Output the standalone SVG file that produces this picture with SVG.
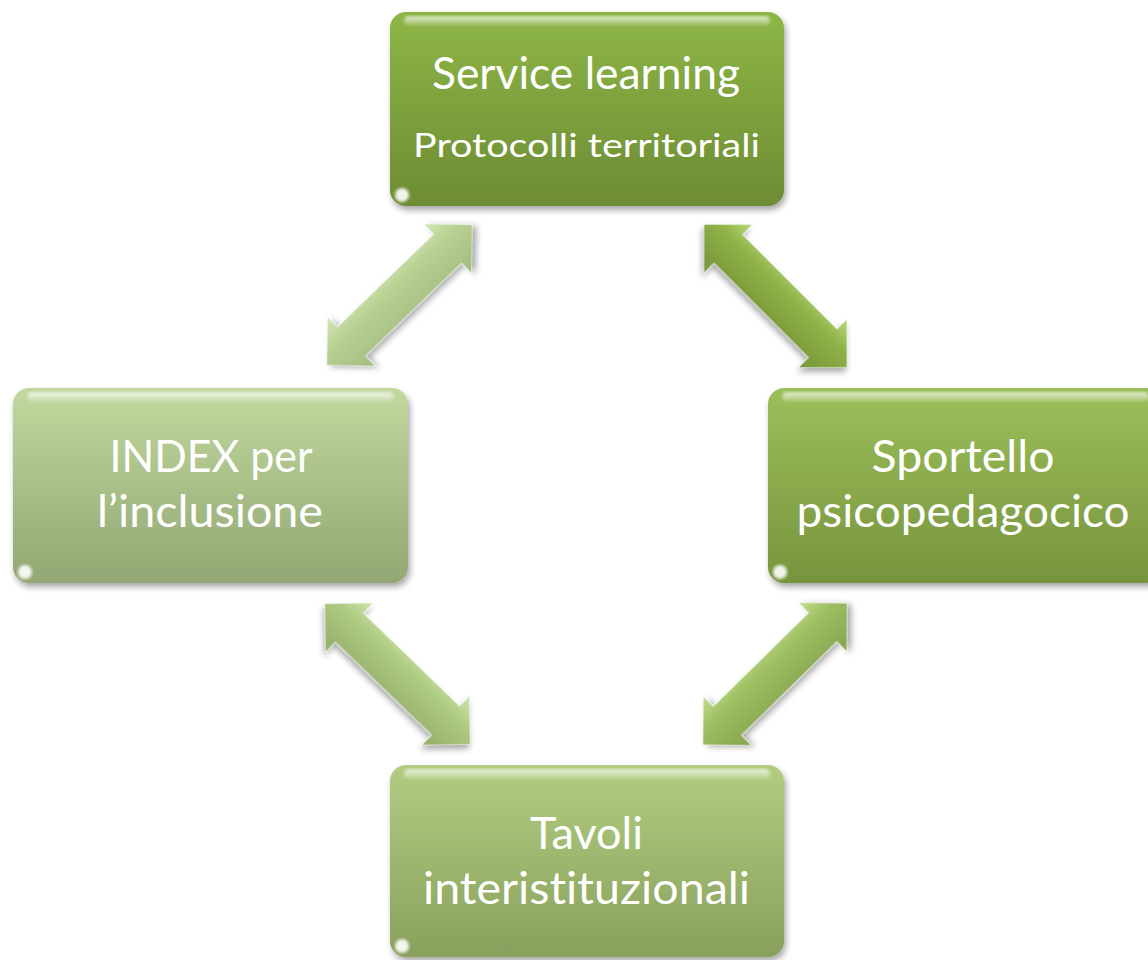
<svg xmlns="http://www.w3.org/2000/svg" width="1148" height="960" viewBox="0 0 1148 960">
<defs>
<filter id="sh" x="-10%" y="-10%" width="125%" height="130%">
<feDropShadow dx="2" dy="4" stdDeviation="3" flood-color="#000" flood-opacity="0.35"/>
</filter>
<filter id="blur1"><feGaussianBlur stdDeviation="1.5"/></filter>
<linearGradient id="gTop" x1="0" y1="0" x2="0" y2="1"><stop offset="0" stop-color="#8EB646"/><stop offset="1" stop-color="#6D8C34"/></linearGradient>
<linearGradient id="gRight" x1="0" y1="0" x2="0" y2="1"><stop offset="0" stop-color="#9CBF5B"/><stop offset="1" stop-color="#77943D"/></linearGradient>
<linearGradient id="gLeft" x1="0" y1="0" x2="0" y2="1"><stop offset="0" stop-color="#C1D89E"/><stop offset="1" stop-color="#92A773"/></linearGradient>
<linearGradient id="gBottom" x1="0" y1="0" x2="0" y2="1"><stop offset="0" stop-color="#B2CD82"/><stop offset="1" stop-color="#88A05C"/></linearGradient>
<linearGradient id="hl" x1="0" y1="0" x2="0" y2="1"><stop offset="0" stop-color="#fff" stop-opacity="0.75"/><stop offset="1" stop-color="#fff" stop-opacity="0.1"/></linearGradient>
<linearGradient id="aTL" x1="0" y1="0" x2="0" y2="1"><stop offset="0" stop-color="#D4E6B9"/><stop offset="0.35" stop-color="#B9D293"/><stop offset="1" stop-color="#A2BB80"/></linearGradient>
<linearGradient id="aTR" x1="0" y1="0" x2="0" y2="1"><stop offset="0" stop-color="#B9D97C"/><stop offset="0.35" stop-color="#8FB347"/><stop offset="1" stop-color="#76943A"/></linearGradient>
<linearGradient id="aBL" x1="0" y1="0" x2="0" y2="1"><stop offset="0" stop-color="#D0E6AC"/><stop offset="0.35" stop-color="#AECB82"/><stop offset="1" stop-color="#93AD69"/></linearGradient>
<linearGradient id="aBR" x1="0" y1="0" x2="0" y2="1"><stop offset="0" stop-color="#C2DE8E"/><stop offset="0.35" stop-color="#9EC062"/><stop offset="1" stop-color="#84A44E"/></linearGradient>
<path id="dbl" d="M -101 0 L -67 -34 L -67 -20 L 67 -20 L 67 -34 L 101 0 L 67 34 L 67 20 L -67 20 L -67 34 Z"/>
</defs>
<style>
.box{filter:url(#sh)}
.lbl{font-family:Lato,"Open Sans","Liberation Sans",sans-serif;fill:#fff;text-anchor:middle;font-variant-ligatures:none;font-feature-settings:"liga" 0,"dlig" 0}
.big{font-size:44px}
.small{font-size:33px}
.hl{fill:url(#hl)}
.blob{fill:#fff;opacity:0.9}
.arr{filter:url(#sh);stroke:#fff;stroke-opacity:0.35;stroke-width:1}
</style>

<g id="connectors">
<use href="#dbl" class="arr" fill="url(#aTL)" transform="translate(399.5 295) rotate(-44)"/>
<use href="#dbl" class="arr" fill="url(#aTR)" transform="translate(775.5 296) rotate(45)"/>
<use href="#dbl" class="arr" fill="url(#aBL)" transform="translate(397.5 674) rotate(44)"/>
<use href="#dbl" class="arr" fill="url(#aBR)" transform="translate(775 674) rotate(-44.5)"/>
</g>

<g id="node-top">
<rect class="box" x="390" y="12" width="394" height="194" rx="16" fill="url(#gTop)"/>
<rect class="hl" x="404" y="16" width="366" height="10" rx="5" filter="url(#blur1)"/>
<ellipse class="blob" cx="402" cy="195" rx="7" ry="7" filter="url(#blur1)"/>
<text class="lbl big" x="586" y="89" textLength="308" lengthAdjust="spacingAndGlyphs">Service learning</text>
<text class="lbl small" x="586.5" y="157" textLength="347" lengthAdjust="spacingAndGlyphs">Protocolli territoriali</text>
</g>

<g id="node-left">
<rect class="box" x="13" y="388" width="395" height="195" rx="16" fill="url(#gLeft)"/>
<rect class="hl" x="27" y="392" width="367" height="10" rx="5" filter="url(#blur1)"/>
<ellipse class="blob" cx="25" cy="572" rx="7" ry="7" filter="url(#blur1)"/>
<text class="lbl big" x="211" y="472" textLength="203" lengthAdjust="spacingAndGlyphs">INDEX per</text>
<text class="lbl big" x="210" y="527" textLength="226" lengthAdjust="spacingAndGlyphs">l’inclusione</text>
</g>

<g id="node-right">
<rect class="box" x="768" y="388" width="395" height="195" rx="16" fill="url(#gRight)"/>
<rect class="hl" x="782" y="392" width="367" height="10" rx="5" filter="url(#blur1)"/>
<ellipse class="blob" cx="780" cy="572" rx="7" ry="7" filter="url(#blur1)"/>
<text class="lbl big" x="963" y="472" textLength="183" lengthAdjust="spacingAndGlyphs">Sportello</text>
<text class="lbl big" x="963" y="527" textLength="333" lengthAdjust="spacingAndGlyphs">psicopedagocico</text>
</g>

<g id="node-bottom">
<rect class="box" x="390" y="765" width="394" height="192" rx="16" fill="url(#gBottom)"/>
<rect class="hl" x="404" y="769" width="366" height="10" rx="5" filter="url(#blur1)"/>
<ellipse class="blob" cx="402" cy="946" rx="7" ry="7" filter="url(#blur1)"/>
<text class="lbl big" x="586.5" y="849" textLength="113" lengthAdjust="spacingAndGlyphs">Tavoli</text>
<text class="lbl big" x="586.5" y="904" textLength="327" lengthAdjust="spacingAndGlyphs">interistituzionali</text>
</g>
</svg>
